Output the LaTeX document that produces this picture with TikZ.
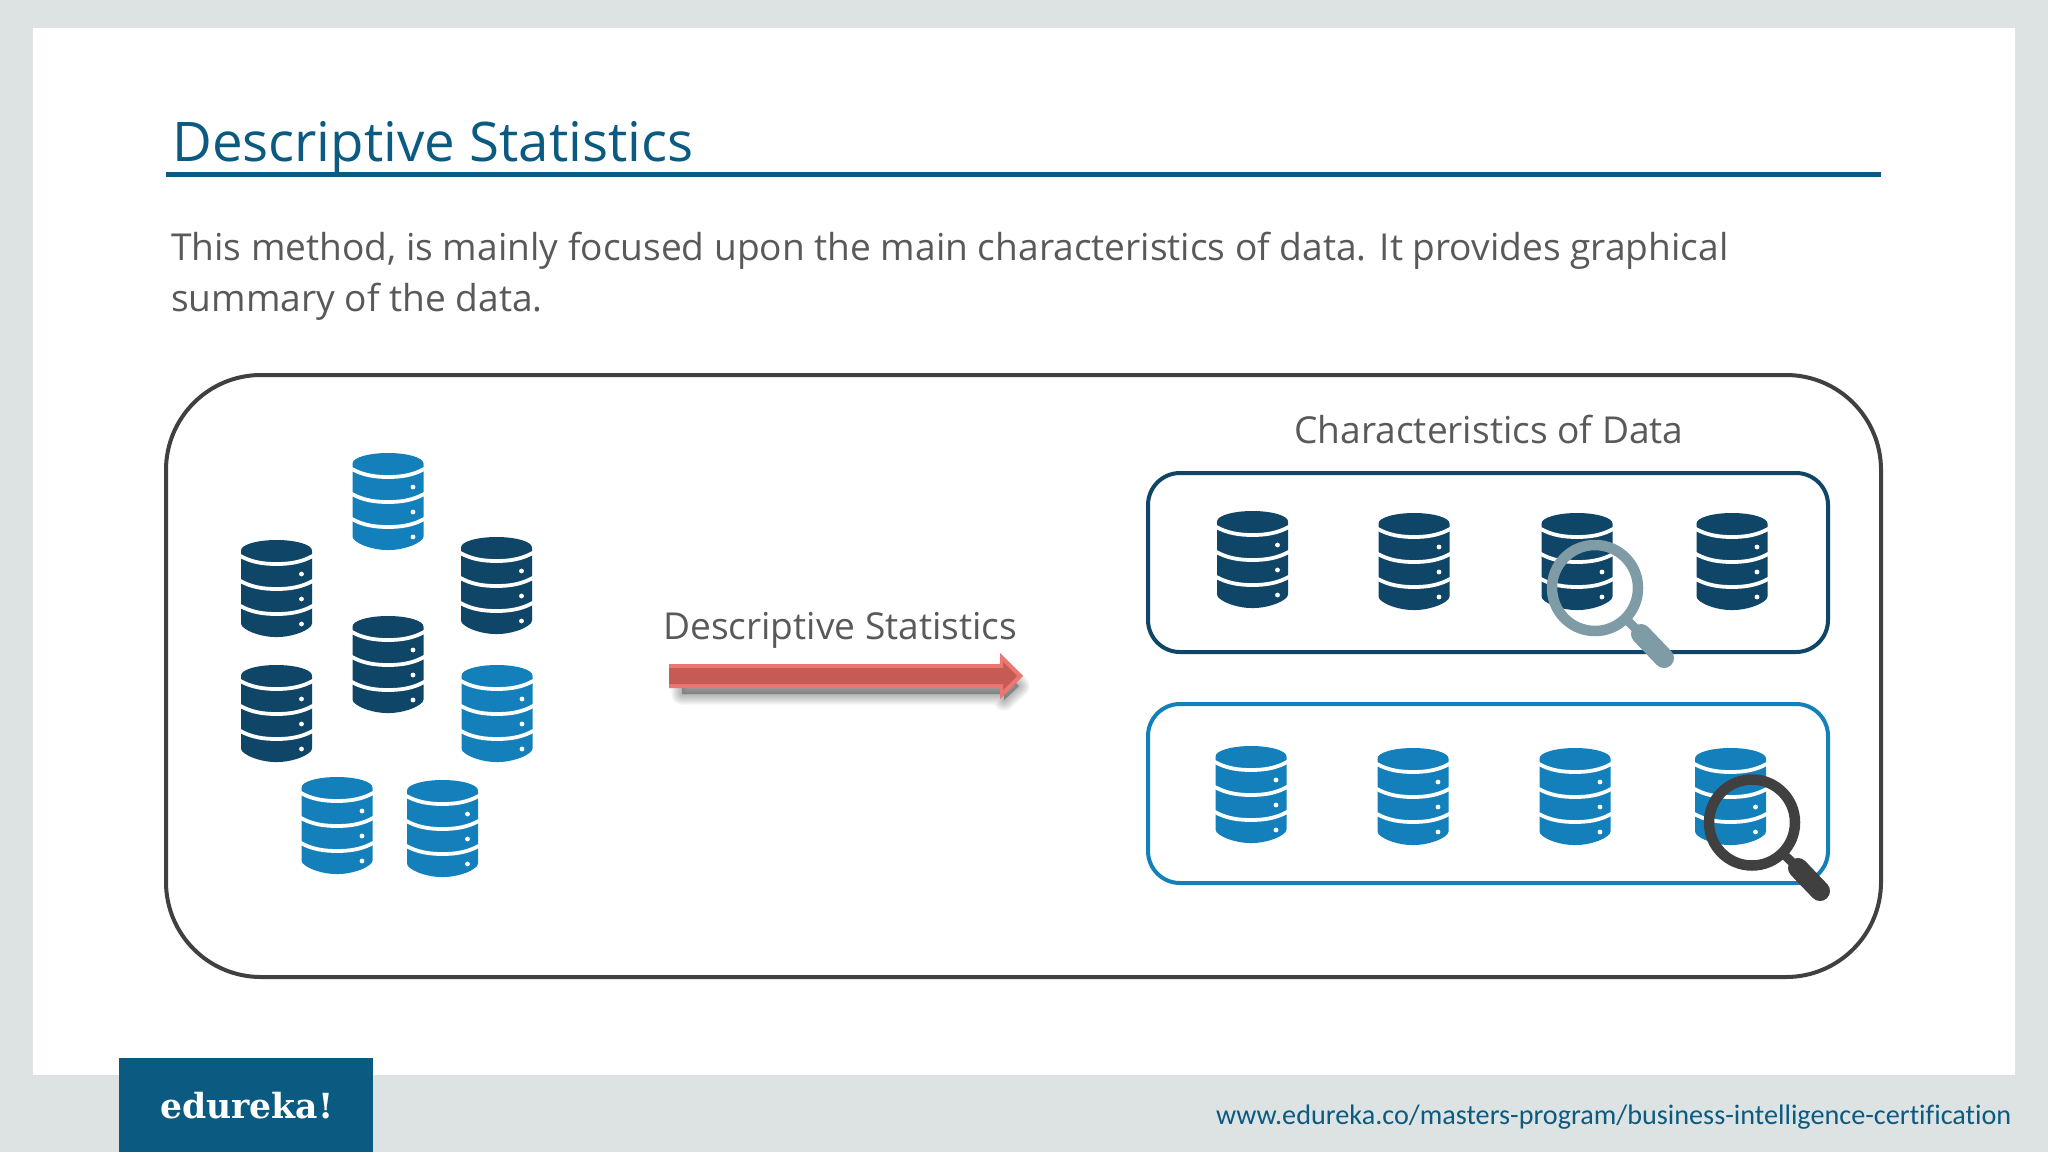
\documentclass[tikz,border=0pt]{standalone}
\usepackage{fontspec}
\setmainfont{Open Sans}
\newfontfamily\logofont{DejaVu Serif}[BoldFont={DejaVu Serif Bold}]
\newfontfamily\urlfont{Carlito}[Ligatures=NoCommon]
\definecolor{pagegray}{HTML}{DDE3E2}
\definecolor{brandblue}{HTML}{0B5A82}
\definecolor{dbdark}{HTML}{0F4566}
\definecolor{dbblue}{HTML}{1380BC}
\definecolor{bodygray}{HTML}{595959}
\definecolor{framegray}{HTML}{404040}
\definecolor{lensgray}{HTML}{7F9BA5}
\definecolor{arrowedge}{HTML}{EC7670}
\definecolor{arrowcore}{HTML}{C65A54}
\newcommand\dbicon[3]{%
\begin{scope}[shift={(#1,#2)}]
\fill[#3,rounded corners=1.5pt] (-35.5,10) -- (-35.5,85) .. controls (-28,93) and (-12,97) .. (0,97) .. controls (12,97) and (28,93) .. (35.5,85) -- (35.5,10) -- cycle;
\foreach \yy in {15.5,40.5,65.5}{
\draw[white,line width=3.8pt] (-37,\yy) .. controls (-25,{\yy+7}) and (-12,{\yy+8.5}) .. (0,{\yy+8.5}) .. controls (12,{\yy+8.5}) and (25,{\yy+7}) .. (37,\yy);
}
\fill[#3] (0,10.5) ellipse [x radius=35.5, y radius=10.5];
\foreach \yy in {34,59,84}{\fill[white] (25,\yy) circle [radius=2.4];}
\end{scope}}
\newcommand\lens[7]{% ring x,y ; neck end x,y ; handle end x,y ; colour
\draw[#7,line width=10.5pt] (#1,#2) circle [radius=43];
\path (#1,#2) ++(45:45) coordinate (neckA);
\draw[#7,line width=9pt] (neckA) -- (#3,#4);
\draw[#7,line width=20pt,line cap=round] (#3,#4) -- (#5,#6);}
\tikzset{
 txt/.style={inner sep=0pt,anchor=base west,text=bodygray},
 panel/.style={rounded corners=32pt,line width=4pt,fill=white}
}
\begin{document}
\begin{tikzpicture}[x=1pt,y=-1pt]
\useasboundingbox (0,0) rectangle (2048,1152);
\fill[pagegray] (0,0) rectangle (2048,1152);
\fill[white] (33,28) rectangle (2015,1075);
\fill[brandblue] (119,1058) rectangle (373,1152);
\node[txt,text=white,font=\logofont\bfseries\fontsize{34.6}{40}\selectfont] (logo) at (160,1118) {edureka!};
\node[txt,text=brandblue,font=\fontsize{54.6}{60}\selectfont] (title) at (172,161) {Descriptive Statistics};
\draw[brandblue,line width=4.2pt] (166,174.5) -- (1881,174.5);
\node[txt,font=\fontsize{37.1}{44}\selectfont] (lineA) at (171,260) {This method, is mainly focused upon the main characteristics of data. It provides graphical};
\node[txt,font=\fontsize{37.1}{44}\selectfont] (lineB) at (171,311) {summary of the data.};
\draw[framegray,line width=4pt,rounded corners=95pt] (166,375) rectangle (1881,977);
\node[txt,font=\fontsize{37.1}{44}\selectfont,anchor=base] (charlabel) at (1489,443) {Characteristics of Data};
\node[txt,font=\fontsize{37.1}{44}\selectfont] (arrowlabel) at (663,639) {Descriptive Statistics};
\draw[panel,draw=dbdark] (1148,473) rectangle (1828,652);
\draw[panel,draw=dbblue] (1148,704) rectangle (1828,883);
% block arrow shadow
\foreach \w in {22,20,...,2}{
\path[draw=black,fill=black,opacity=0.026,line width=\w pt,line join=round] (682,678) -- (1004,678) -- (1004,672) -- (1019,686) -- (1004,700) -- (1004,694) -- (682,694) -- cycle;}
\fill[arrowedge] (669,664) -- (1000,664) -- (1000,653) -- (1023,676) -- (1000,699) -- (1000,688) -- (669,688) -- cycle;
\fill[arrowcore] (669,668) -- (1003,668) -- (1003,662) -- (1017,676) -- (1003,690) -- (1003,684) -- (669,684) -- cycle;
% left cluster
\dbicon{388}{453}{dbblue}
\dbicon{276.5}{540}{dbdark}
\dbicon{496.5}{537}{dbdark}
\dbicon{388}{616}{dbdark}
\dbicon{276.5}{665}{dbdark}
\dbicon{497}{665}{dbblue}
\dbicon{337}{777}{dbblue}
\dbicon{442.5}{780}{dbblue}
% top panel
\dbicon{1252.5}{511}{dbdark}
\dbicon{1414}{513}{dbdark}
\dbicon{1577}{513}{dbdark}
\dbicon{1732}{513}{dbdark}
% bottom panel
\dbicon{1251}{746}{dbblue}
\dbicon{1413}{748}{dbblue}
\dbicon{1575}{748}{dbblue}
\dbicon{1730.5}{748}{dbblue}
\lens{1595}{588}{1641}{634}{1664}{658}{lensgray}
\lens{1752}{822.5}{1798}{868}{1820}{891}{framegray}
\node[txt,text=brandblue,font=\urlfont\fontsize{28.2}{32}\selectfont] (url) at (1216,1124) {www.edureka.co/masters-program/business-intelligence-certification};
\end{tikzpicture}
\end{document}
